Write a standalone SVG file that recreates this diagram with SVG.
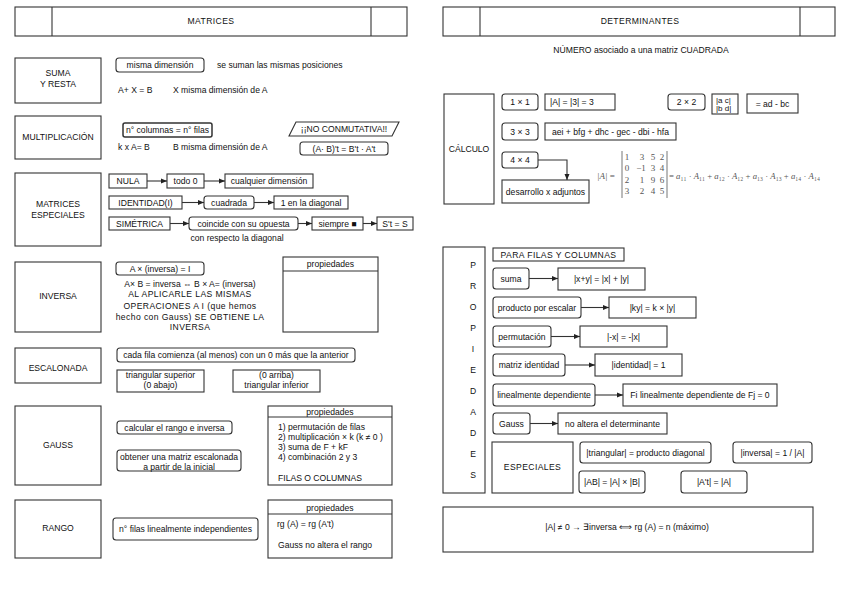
<svg xmlns="http://www.w3.org/2000/svg" width="848" height="601" viewBox="0 0 848 601">
<style>
text{font-family:"Liberation Sans",Arial,sans-serif;font-size:8.6px;fill:#111}
.c{text-anchor:middle}
.b{fill:#fff;stroke:#333;stroke-width:1.1}
.r{fill:#fff;stroke:#333;stroke-width:1.1}
.ln{stroke:#333;stroke-width:1.1;fill:none}
.sp{letter-spacing:0.4px}
.m{font-family:"Liberation Serif","DejaVu Serif",serif;font-size:9px;fill:#555}
</style>
<defs>
<marker id="ah" markerWidth="7" markerHeight="6" refX="6" refY="3" orient="auto" markerUnits="userSpaceOnUse">
<path d="M0,0.5 L6,3 L0,5.5 Z" fill="#222"/>
</marker>
</defs>
<rect width="848" height="601" fill="#fff"/>

<g id="hdr-matrices">
<rect class="b" x="15" y="7" width="392" height="29"/>
<line class="ln" x1="52" y1="7" x2="52" y2="36"/>
<line class="ln" x1="371" y1="7" x2="371" y2="36"/>
<text class="c sp" x="211" y="24">MATRICES</text>
</g>
<g id="hdr-determinantes">
<rect class="b" x="443" y="7" width="392" height="29"/>
<line class="ln" x1="480" y1="7" x2="480" y2="36"/>
<line class="ln" x1="800" y1="7" x2="800" y2="36"/>
<text class="c sp" x="640" y="24">DETERMINANTES</text>
</g>
<text class="c" x="641" y="53">NÚMERO asociado a una matriz CUADRADA</text>

<!-- LEFT: SUMA -->
<g id="suma">
<rect class="b" x="15" y="58" width="86" height="45"/>
<text class="c" x="58" y="76">SUMA</text>
<text class="c" x="58" y="87">Y RESTA</text>
</g>
<g id="suma-dim"><rect class="r" x="116" y="58" width="88" height="14" rx="3"/><text class="c" x="160" y="68">misma dimensión</text></g>
<text x="217" y="68">se suman las mismas posiciones</text>
<text x="118" y="93">A+ X = B</text>
<text x="173" y="93">X misma dimensión de A</text>

<!-- MULTIPLICACION -->
<g id="mult">
<rect class="b" x="15" y="116" width="86" height="43"/>
<text class="c" x="58" y="140">MULTIPLICACIÓN</text>
</g>
<g id="mult-cols"><rect class="r" x="123" y="123" width="89" height="14" rx="2" style="stroke-width:1.5"/><text class="c" x="167.5" y="133">n° columnas = n° filas</text></g>
<text x="118" y="150">k x A= B</text>
<text x="173" y="150">B misma dimensión de A</text>
<g id="no-conm"><polygon class="b" points="296,122 399,122 392,136 289,136"/><text class="c" x="344" y="132">¡¡NO CONMUTATIVA!!</text></g>
<g id="traspuesta"><rect class="r" x="300" y="142" width="88" height="13" rx="3"/><text class="c" x="344" y="151.5">(A· B)'t = B't · A't</text></g>

<!-- MATRICES ESPECIALES -->
<g id="especiales">
<rect class="b" x="15" y="173" width="86" height="73"/>
<text class="c" x="58" y="207">MATRICES</text>
<text class="c" x="58" y="218">ESPECIALES</text>
</g>
<g id="nula"><rect class="b" x="109" y="174" width="38" height="14"/><text class="c" x="128" y="184">NULA</text></g>
<g id="todo0"><rect class="b" x="167" y="174" width="37" height="14"/><text class="c" x="185.5" y="184">todo 0</text></g>
<g id="cualq"><rect class="b" x="225" y="174" width="88" height="14"/><text class="c" x="269" y="184">cualquier dimensión</text></g>
<g id="identidad"><rect class="b" x="109" y="196" width="73" height="13"/><text class="c" x="145.5" y="205.5">IDENTIDAD(I)</text></g>
<g id="cuadrada"><rect class="r" x="204" y="196" width="50" height="13" rx="3"/><text class="c" x="229" y="205.5">cuadrada</text></g>
<g id="diag1"><rect class="b" x="274" y="196" width="74" height="13"/><text class="c" x="311" y="205.5">1 en la diagonal</text></g>
<g id="simetrica"><rect class="b" x="109" y="217" width="61" height="13"/><text class="c" x="139.5" y="226.5">SIMÉTRICA</text></g>
<g id="coincide"><rect class="r" x="189" y="217" width="109" height="13" rx="3"/><text class="c" x="243.5" y="226.5">coincide con su opuesta</text></g>
<g id="siempre"><rect class="b" x="312" y="217" width="51" height="13"/><text class="c" x="337.5" y="226.5">siempre ■</text></g>
<g id="st"><rect class="b" x="377" y="217" width="36" height="13"/><text class="c" x="395" y="226.5">S't = S</text></g>
<text class="c" x="237" y="241">con respecto la diagonal</text>

<!-- INVERSA -->
<g id="inversa">
<rect class="b" x="15" y="262" width="86" height="70"/>
<text class="c" x="58" y="299">INVERSA</text>
</g>
<g id="inv-def"><rect class="r" x="116" y="262" width="88" height="13" rx="3"/><text class="c" x="160" y="271.5">A × (inversa) = I</text></g>
<text class="c" x="190" y="287">A× B = inversa ⇔ B × A= (inversa)</text>
<text class="c sp" x="190" y="297">AL APLICARLE LAS MISMAS</text>
<text class="c sp" x="190" y="309">OPERACIONES A I (que hemos</text>
<text class="c sp" x="190" y="320">hecho con Gauss) SE OBTIENE LA</text>
<text class="c sp" x="190" y="330">INVERSA</text>
<g id="inv-prop">
<rect class="b" x="283" y="257" width="95" height="75"/>
<line class="ln" x1="283" y1="271" x2="378" y2="271"/>
<text class="c" x="330.5" y="267">propiedades</text>
</g>

<!-- ESCALONADA -->
<g id="escalonada">
<rect class="b" x="15" y="348" width="86" height="35"/>
<text class="c" x="58" y="371">ESCALONADA</text>
</g>
<g id="cada-fila"><rect class="r" x="117" y="348" width="238" height="14" rx="3"/><text class="c" x="236" y="358">cada fila comienza (al menos) con un 0 más que la anterior</text></g>
<g id="tri-sup"><rect class="b" x="117" y="370" width="87" height="22"/><text class="c" x="160.5" y="378">triangular superior</text><text class="c" x="160.5" y="388">(0 abajo)</text></g>
<g id="tri-inf"><rect class="b" x="233" y="370" width="87" height="22"/><text class="c" x="276.5" y="378">(0 arriba)</text><text class="c" x="276.5" y="388">triangular inferior</text></g>

<!-- GAUSS -->
<g id="gauss">
<rect class="b" x="15" y="406" width="86" height="79"/>
<text class="c" x="58" y="448">GAUSS</text>
</g>
<g id="gauss-calc"><rect class="r" x="117" y="421" width="115" height="13" rx="3"/><text class="c" x="174.5" y="430.5">calcular el rango e inversa</text></g>
<g id="gauss-obt"><rect class="r" x="117" y="450" width="124" height="21" rx="3"/><text class="c" x="179" y="460">obtener una matriz escalonada</text><text class="c" x="179" y="470">a partir de la inicial</text></g>
<g id="gauss-prop">
<rect class="b" x="268" y="406" width="124" height="79"/>
<line class="ln" x1="268" y1="417" x2="392" y2="417"/>
<text class="c" x="330" y="414.5">propiedades</text>
<text x="278" y="430">1) permutación de filas</text>
<text x="278" y="440">2) multiplicación × k  (k ≠ 0 )</text>
<text x="278" y="450">3) suma de F + kF</text>
<text x="278" y="460">4) combinación 2 y 3</text>
<text x="278" y="481">FILAS O COLUMNAS</text>
</g>

<!-- RANGO -->
<g id="rango">
<rect class="b" x="15" y="500" width="86" height="58"/>
<text class="c" x="58" y="531">RANGO</text>
</g>
<g id="rango-def"><rect class="r" x="113" y="518" width="145" height="22" rx="3"/><text class="c" x="185.5" y="532">n° filas linealmente independientes</text></g>
<g id="rango-prop">
<rect class="b" x="268" y="500" width="124" height="58"/>
<line class="ln" x1="268" y1="514" x2="392" y2="514"/>
<text class="c" x="330" y="510.5">propiedades</text>
<text x="277" y="527">rg (A) = rg (A't)</text>
<text x="278" y="548">Gauss no altera el rango</text>
</g>

<!-- RIGHT: CALCULO -->
<g id="calculo">
<rect class="b" x="444" y="94" width="50" height="110"/>
<text class="c" x="469" y="152">CÁLCULO</text>
</g>
<g id="c11"><rect class="r" x="502" y="94" width="36" height="16" rx="3"/><text class="c" x="520" y="105">1 × 1</text></g>
<g id="c11v"><rect class="b" x="545" y="94" width="70" height="16"/><text x="550" y="105">|A| = |3| = 3</text></g>
<g id="c22"><rect class="r" x="668" y="94" width="37" height="16" rx="3"/><text class="c" x="686.5" y="105">2 × 2</text></g>
<g id="c22m"><rect class="b" x="712" y="94" width="26" height="20"/><text style="font-size:8px" x="716" y="102.5">|a c|</text><text style="font-size:8px" x="716" y="111">|b d|</text></g>
<g id="c22v"><rect class="b" x="747" y="94" width="51" height="19"/><text class="c" x="772.5" y="106.5">= ad - bc</text></g>
<g id="c33"><rect class="r" x="502" y="123" width="36" height="17" rx="3"/><text class="c" x="520" y="134.5">3 × 3</text></g>
<g id="c33v"><rect class="b" x="545" y="123" width="131" height="17"/><text class="c" x="610.5" y="134.5">aei + bfg + dhc - gec - dbi - hfa</text></g>
<g id="c44"><rect class="r" x="502" y="152" width="36" height="16" rx="3"/><text class="c" x="520" y="163">4 × 4</text></g>
<g id="c44v"><rect class="b" x="502" y="180" width="87" height="23"/><text class="c" x="545.5" y="195">desarrollo x adjuntos</text></g>
<g id="formula">
<text class="m" x="597" y="179"><tspan font-style="italic">|A|</tspan> =</text>
<line x1="622" y1="151" x2="622" y2="198" stroke="#666" stroke-width="0.9"/>
<line x1="667" y1="151" x2="667" y2="198" stroke="#666" stroke-width="0.9"/>
<text class="m c" x="627" y="160">1</text><text class="m c" x="642" y="160">3</text><text class="m c" x="653" y="160">5</text><text class="m c" x="662" y="160">2</text>
<text class="m c" x="627" y="171">0</text><text class="m c" x="641" y="171">−1</text><text class="m c" x="653" y="171">3</text><text class="m c" x="662" y="171">4</text>
<text class="m c" x="627" y="183">2</text><text class="m c" x="642" y="183">1</text><text class="m c" x="653" y="183">9</text><text class="m c" x="662" y="183">6</text>
<text class="m c" x="627" y="194">3</text><text class="m c" x="642" y="194">2</text><text class="m c" x="653" y="194">4</text><text class="m c" x="662" y="194">5</text>
<text class="m" x="669" y="179" textLength="151" lengthAdjust="spacingAndGlyphs">= <tspan font-style="italic">a</tspan>₁₁ · <tspan font-style="italic">A</tspan>₁₁ + <tspan font-style="italic">a</tspan>₁₂ · <tspan font-style="italic">A</tspan>₁₂ + <tspan font-style="italic">a</tspan>₁₃ · <tspan font-style="italic">A</tspan>₁₃ + <tspan font-style="italic">a</tspan>₁₄ · <tspan font-style="italic">A</tspan>₁₄</text>
</g>

<!-- PROPIEDADES -->
<g id="propiedades">
<rect class="b" x="443" y="247" width="42" height="246"/>
<text class="c" x="473" y="268">P</text>
<text class="c" x="473" y="289">R</text>
<text class="c" x="473" y="310">O</text>
<text class="c" x="473" y="331">P</text>
<text class="c" x="473" y="352">I</text>
<text class="c" x="473" y="373">E</text>
<text class="c" x="473" y="394">D</text>
<text class="c" x="473" y="415">A</text>
<text class="c" x="473" y="436">D</text>
<text class="c" x="473" y="457">E</text>
<text class="c" x="473" y="478">S</text>
</g>
<g id="para-filas"><rect class="b" x="493" y="248" width="131" height="13"/><text class="c sp" x="558.5" y="257.5">PARA FILAS Y COLUMNAS</text></g>
<g id="p-suma"><rect class="r" x="493" y="268" width="36" height="21" rx="3"/><text class="c" x="511" y="281.5">suma</text></g>
<g id="p-suma-v"><rect class="b" x="558" y="268" width="87" height="22"/><text class="c" x="601.5" y="282">|x+y| =  |x| + |y|</text></g>
<g id="p-prod"><rect class="r" x="493" y="297" width="88" height="21" rx="3"/><text class="c" x="537" y="310.5">producto por escalar</text></g>
<g id="p-prod-v"><rect class="b" x="609" y="297" width="87" height="21"/><text class="c" x="652.5" y="310.5">|ky| = k × |y|</text></g>
<g id="p-perm"><rect class="r" x="493" y="326" width="58" height="21" rx="3"/><text class="c" x="522" y="339.5">permutación</text></g>
<g id="p-perm-v"><rect class="b" x="580" y="326" width="87" height="21"/><text class="c" x="623.5" y="339.5">|-x| = -|x|</text></g>
<g id="p-iden"><rect class="r" x="493" y="354" width="72" height="22" rx="3"/><text class="c" x="529" y="368">matriz identidad</text></g>
<g id="p-iden-v"><rect class="b" x="595" y="354" width="87" height="22"/><text class="c" x="638.5" y="368">|identidad| = 1</text></g>
<g id="p-lin"><rect class="r" x="493" y="384" width="102" height="22" rx="3"/><text class="c" x="544" y="398">linealmente dependiente</text></g>
<g id="p-lin-v"><rect class="b" x="623" y="384" width="154" height="22"/><text class="c" x="700" y="398">Fi linealmente dependiente de  Fj = 0</text></g>
<g id="p-gauss"><rect class="r" x="493" y="413" width="37" height="21" rx="3"/><text class="c" x="511.5" y="426.5">Gauss</text></g>
<g id="p-gauss-v"><rect class="b" x="558" y="413" width="109" height="21"/><text class="c" x="612.5" y="426.5">no altera el determinante</text></g>
<g id="p-esp"><rect class="b" x="492" y="442" width="81" height="51"/><text class="c sp" x="532.5" y="470">ESPECIALES</text></g>
<g id="p-tri"><rect class="r" x="580" y="442" width="131" height="21" rx="3"/><text class="c" x="645.5" y="455.5">|triangular| = producto diagonal</text></g>
<g id="p-inv"><rect class="r" x="733" y="442" width="79" height="21" rx="3"/><text class="c" x="772.5" y="455.5">|inversa| = 1 / |A|</text></g>
<g id="p-ab"><rect class="r" x="579" y="471" width="66" height="22" rx="3"/><text class="c" x="612" y="485">|AB| =  |A| × |B|</text></g>
<g id="p-at"><rect class="r" x="681" y="471" width="66" height="22" rx="3"/><text class="c" x="714" y="485">|A't| =  |A|</text></g>

<g id="final"><rect class="b" x="443" y="507" width="370" height="45"/><text class="c" x="627" y="530">|A| ≠ 0 → ∃inversa ⟺ rg (A) = n (máximo)</text></g>

<g id="connectors">
<line class="ln" x1="147" y1="181" x2="167" y2="181" marker-end="url(#ah)"/>
<line class="ln" x1="204" y1="181" x2="225" y2="181" marker-end="url(#ah)"/>
<line class="ln" x1="182" y1="202.5" x2="204" y2="202.5" marker-end="url(#ah)"/>
<line class="ln" x1="254" y1="202.5" x2="274" y2="202.5" marker-end="url(#ah)"/>
<line class="ln" x1="170" y1="223.5" x2="189" y2="223.5" marker-end="url(#ah)"/>
<line class="ln" x1="298" y1="223.5" x2="312" y2="223.5" marker-end="url(#ah)"/>
<line class="ln" x1="363" y1="223.5" x2="377" y2="223.5" marker-end="url(#ah)"/>
<path class="ln" d="M538,160 H567 V180" marker-end="url(#ah)"/>
<line class="ln" x1="529" y1="278.5" x2="558" y2="278.5" marker-end="url(#ah)"/>
<line class="ln" x1="581" y1="307.5" x2="609" y2="307.5" marker-end="url(#ah)"/>
<line class="ln" x1="551" y1="336.5" x2="580" y2="336.5" marker-end="url(#ah)"/>
<line class="ln" x1="565" y1="365" x2="595" y2="365" marker-end="url(#ah)"/>
<line class="ln" x1="595" y1="395" x2="623" y2="395" marker-end="url(#ah)"/>
<line class="ln" x1="530" y1="423.5" x2="558" y2="423.5" marker-end="url(#ah)"/>
</g>
</svg>
